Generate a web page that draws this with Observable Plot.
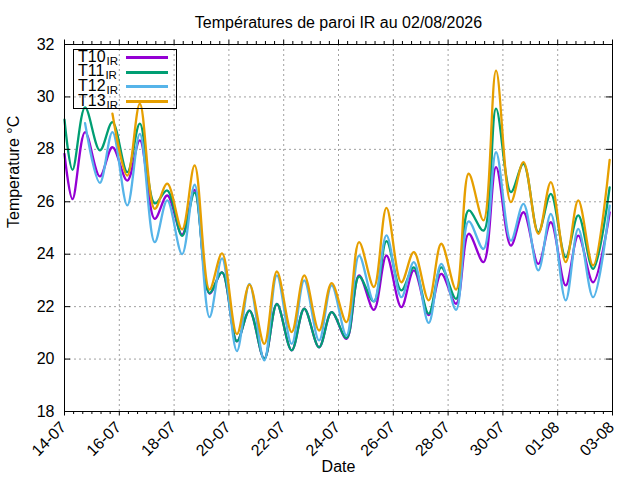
<!DOCTYPE html>
<html>
<head>
<meta charset="utf-8">
<script src="https://cdn.jsdelivr.net/npm/d3@7"></script>
<script src="https://cdn.jsdelivr.net/npm/@observablehq/plot@0.6"></script>
<style>
  body { margin: 0; background: #fff; }
  #wrap { position: relative; width: 640px; height: 480px; font-family: "Liberation Sans", Arial, sans-serif; }
  #legend { position: absolute; left: 73px; top: 49px; width: 104px; height: 60px; border: 1px solid #000; box-sizing: border-box; }
  .lab { position: absolute; left: 4px; font-size: 16px; line-height: 11px; white-space: nowrap; color: #000; }
  .lab sub { font-size: 11.5px; vertical-align: -3px; line-height: 0; margin-left: 1px; }
  .sw { position: absolute; left: 52px; width: 42px; height: 3px; }
</style>
</head>
<body>
<div id="wrap"><div id="legend"></div></div>
<script>
const title = "Températures de paroi IR au 02/08/2026";
const xLabel = "Date";
const yLabel = "Temperature °C";

const seriesNames = ["T10", "T11", "T12", "T13"];
const seriesColors = ["#9400D3", "#009E73", "#56B4E9", "#E69F00"];

const times = [
  "2026-07-14T00:00Z",
  "2026-07-14T07:00Z", "2026-07-14T18:00Z",
  "2026-07-15T07:00Z", "2026-07-15T18:00Z",
  "2026-07-16T07:00Z", "2026-07-16T18:00Z",
  "2026-07-17T07:00Z", "2026-07-17T18:00Z",
  "2026-07-18T07:00Z", "2026-07-18T18:00Z",
  "2026-07-19T07:00Z", "2026-07-19T18:00Z",
  "2026-07-20T07:00Z", "2026-07-20T18:00Z",
  "2026-07-21T07:00Z", "2026-07-21T18:00Z",
  "2026-07-22T07:00Z", "2026-07-22T18:00Z",
  "2026-07-23T07:00Z", "2026-07-23T18:00Z",
  "2026-07-24T07:00Z", "2026-07-24T18:00Z",
  "2026-07-25T07:00Z", "2026-07-25T18:00Z",
  "2026-07-26T07:00Z", "2026-07-26T18:00Z",
  "2026-07-27T07:00Z", "2026-07-27T18:00Z",
  "2026-07-28T07:00Z", "2026-07-28T18:00Z",
  "2026-07-29T07:00Z", "2026-07-29T18:00Z",
  "2026-07-30T07:00Z", "2026-07-30T18:00Z",
  "2026-07-31T07:00Z", "2026-07-31T18:00Z",
  "2026-08-01T07:00Z", "2026-08-01T18:00Z",
  "2026-08-02T07:00Z", "2026-08-02T21:30Z"
];

const t10 = [27.83, 26.10, 28.66, 26.97, 28.08, 26.81, 28.34, 25.35, 26.24, 24.75, 26.45,
  22.50, 23.31, 20.68, 21.85, 20.01, 22.10, 20.33, 21.92, 20.45, 21.79,
  20.77, 23.19, 21.88, 23.95, 21.98, 23.38, 21.68, 23.25, 22.11, 24.78,
  23.70, 27.32, 24.33, 25.60, 23.63, 25.22, 22.81, 24.71, 22.93, 25.60];
const t11 = [29.13, 27.22, 29.60, 27.96, 29.04, 27.13, 28.98, 25.94, 26.43, 24.70, 26.35,
  22.52, 23.31, 20.68, 21.85, 20.01, 22.10, 20.33, 21.92, 20.45, 21.79,
  20.80, 23.15, 22.20, 24.50, 22.62, 23.50, 21.73, 23.50, 22.30, 25.67,
  24.90, 29.55, 26.37, 27.45, 24.84, 26.30, 23.89, 25.48, 23.44, 26.55];
const t12 = [null, null, 29.00, 26.72, 28.66, 25.86, 28.59, 24.46, 26.05, 24.00, 26.65,
  21.60, 23.84, 20.30, 22.87, 19.95, 23.19, 20.58, 23.00, 20.71, 22.81,
  20.90, 23.95, 22.20, 24.72, 22.36, 23.70, 21.38, 23.63, 21.88, 25.25,
  24.20, 27.89, 24.52, 25.92, 23.38, 25.54, 22.24, 24.97, 22.36, 25.85];
const t13 = [null, null, null, null, 29.36, 27.00, 29.74, 25.73, 26.69, 24.95, 27.39,
  22.65, 24.03, 20.95, 22.84, 20.58, 23.34, 21.03, 23.19, 21.09, 22.90,
  21.41, 24.46, 22.75, 25.77, 22.93, 24.08, 22.24, 24.40, 22.65, 27.07,
  25.29, 31.00, 25.99, 27.51, 24.78, 26.75, 23.70, 26.05, 23.57, 27.60];

const xTickDates = ["2026-07-14", "2026-07-16", "2026-07-18", "2026-07-20", "2026-07-22",
  "2026-07-24", "2026-07-26", "2026-07-28", "2026-07-30", "2026-08-01", "2026-08-03"];
const xTickLabels = ["14-07", "16-07", "18-07", "20-07", "22-07", "24-07", "26-07", "28-07", "30-07", "01-08", "03-08"];
const yTicks = [18, 20, 22, 24, 26, 28, 30, 32];

const W = 640, H = 480, mL = 64, mR = 28, mT = 44, mB = 69;
const innerW = W - mL - mR, innerH = H - mT - mB;
const fontFamily = "'Liberation Sans', Arial, sans-serif";

const allSeries = [t10, t11, t12, t13];
const data = [];
allSeries.forEach((vals, k) => {
  vals.forEach((v, i) => {
    if (v != null) data.push({ time: new Date(times[i]), value: v, name: seriesNames[k] });
  });
});

const xMajor = xTickDates.map(s => new Date(s + "T00:00Z"));
const xStart = xMajor[0], xEnd = xMajor[xMajor.length - 1];
const majorSet = new Set(xMajor.map(d => +d));
const xMinor = d3.utcHour.every(8).range(xStart, xEnd).filter(d => !majorSet.has(+d));
const xGrid = xMajor.slice(1, -1);
const yGrid = yTicks.slice(1, -1);
const tickLabel = new Map(xMajor.map((d, i) => [+d, xTickLabels[i]]));

const grid = { stroke: "#a0a0a0", strokeOpacity: 1, strokeWidth: 1, strokeDasharray: "2,3" };

const chart = Plot.plot({
  width: W, height: H,
  marginLeft: mL, marginRight: mR, marginTop: mT, marginBottom: mB,
  style: { fontFamily, fontSize: "16px", background: "white", color: "black" },
  x: { type: "utc", domain: [xStart, xEnd], axis: null },
  y: { domain: [18, 32], axis: null },
  color: { domain: seriesNames, range: seriesColors },
  marks: [
    Plot.ruleX(xGrid, { x: d => d, ...grid }),
    Plot.ruleY(yGrid, { y: d => d, ...grid }),
    Plot.line(data, { x: "time", y: "value", stroke: "name", z: "name", strokeWidth: 2.3, curve: "catmull-rom" }),
    Plot.frame({ stroke: "black", strokeWidth: 1 }),
    // x major ticks (outward, bottom and top)
    Plot.ruleX(xMajor, { x: d => d, stroke: "black", insetTop: innerH - 4.5, dy: 4.5 }),
    Plot.ruleX(xMajor, { x: d => d, stroke: "black", insetBottom: innerH - 4.5, dy: -4.5 }),
    // x minor ticks
    Plot.ruleX(xMinor, { x: d => d, stroke: "black", insetTop: innerH - 3, dy: 3 }),
    Plot.ruleX(xMinor, { x: d => d, stroke: "black", insetBottom: innerH - 3, dy: -3 }),
    // y ticks (inward, left and right)
    Plot.ruleY(yTicks, { y: d => d, stroke: "black", insetRight: innerW - 6 }),
    Plot.ruleY(yTicks, { y: d => d, stroke: "black", insetLeft: innerW - 6 }),
    // tick labels
    Plot.text(xMajor, { x: d => d, text: d => tickLabel.get(+d), frameAnchor: "bottom", rotate: -45,
      textAnchor: "end", lineAnchor: "middle", dx: -1, dy: 13, fontSize: 16, fill: "black" }),
    Plot.text(yTicks, { y: d => d, text: d => String(d), frameAnchor: "left", textAnchor: "end",
      lineAnchor: "middle", dx: -10, fontSize: 16, fill: "black" }),
    // titles
    Plot.text([title], { frameAnchor: "top", lineAnchor: "middle", dy: -22, fontSize: 16, fill: "black" }),
    Plot.text([xLabel], { frameAnchor: "bottom", lineAnchor: "middle", dy: 55, fontSize: 16, fill: "black" }),
    Plot.text([yLabel], { frameAnchor: "left", lineAnchor: "middle", dx: -51, rotate: -90, fontSize: 16, fill: "black" })
  ]
});

const wrap = document.getElementById("wrap");
wrap.insertBefore(chart, wrap.firstChild);
chart.style.position = "absolute";
chart.style.left = "0";
chart.style.top = "0";

const legend = document.getElementById("legend");
seriesNames.forEach((name, i) => {
  const lab = document.createElement("div");
  lab.className = "lab";
  lab.style.top = (0.6 + 14.8 * i) + "px";
  lab.innerHTML = name + "<sub>IR</sub>";
  legend.appendChild(lab);
  const sw = document.createElement("div");
  sw.className = "sw";
  sw.style.top = (5.8 + 14.8 * i) + "px";
  sw.style.background = seriesColors[i];
  legend.appendChild(sw);
});
</script>
</body>
</html>
